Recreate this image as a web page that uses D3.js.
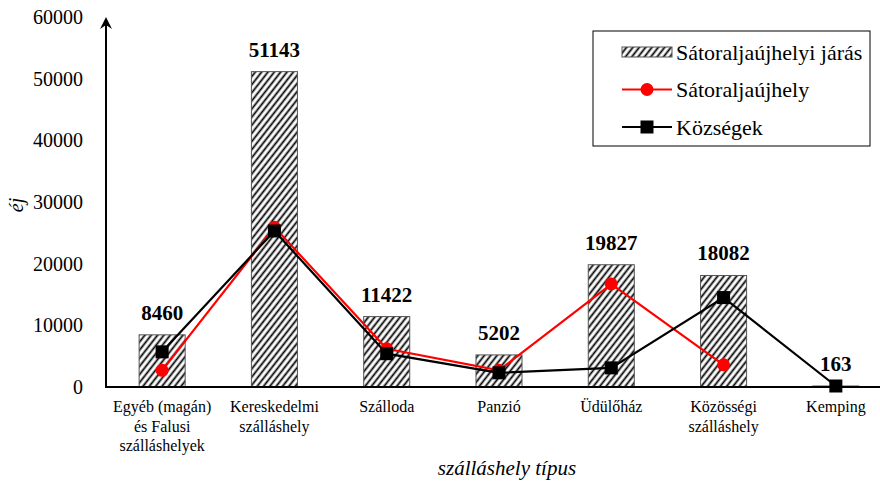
<!DOCTYPE html>
<html>
<head>
<meta charset="utf-8">
<script src="https://cdn.jsdelivr.net/npm/d3@7"></script>
<style>
  body { margin: 0; background: #fff; }
  svg text { font-family: "Liberation Serif", "Times New Roman", serif; }
</style>
</head>
<body>
<div id="chart"></div>
<script>
var categories = [
  ["Egyéb (magán)", "és Falusi", "szálláshelyek"],
  ["Kereskedelmi", "szálláshely"],
  ["Szálloda"],
  ["Panzió"],
  ["Üdülőház"],
  ["Közösségi", "szálláshely"],
  ["Kemping"]
];
var jaras = [8460, 51143, 11422, 5202, 19827, 18082, 163];
var varos = [2700, 25900, 6200, 2700, 16700, 3600, null];
var kozsegek = [5700, 25300, 5400, 2300, 3100, 14500, 163];
var yTicks = [0, 10000, 20000, 30000, 40000, 50000, 60000];

var W = 880, H = 489;
var margin = { top: 17, right: 0, bottom: 102, left: 106 },
    width = W - margin.left - margin.right,
    height = H - margin.top - margin.bottom;

var serif = "Liberation Serif";

var svg = d3.select("#chart").append("svg")
    .attr("width", W)
    .attr("height", H)
    .attr("font-family", serif);

// hatch for the bars
var pat = svg.append("defs").append("pattern")
    .attr("id", "hatch")
    .attr("patternUnits", "userSpaceOnUse")
    .attr("width", 5)
    .attr("height", 5)
    .attr("patternTransform", "rotate(38)");
pat.append("rect").attr("width", 5).attr("height", 5).attr("fill", "#fff");
pat.append("line")
    .attr("x1", 1.5).attr("y1", -1).attr("x2", 1.5).attr("y2", 6)
    .attr("stroke", "#000")
    .attr("stroke-width", 1.8);

var g = svg.append("g").attr("transform", "translate(" + margin.left + "," + margin.top + ")");

var idx = d3.range(categories.length);
var x = d3.scaleBand().domain(idx).range([0, 786]).paddingInner(0.59).paddingOuter(0.295);
var y = d3.scaleLinear().domain([0, 60000]).range([height, 0]);

// bars
g.selectAll("rect.bar")
    .data(jaras)
    .enter().append("rect")
    .attr("class", "bar")
    .attr("x", function(d, i) { return x(i); })
    .attr("y", function(d) { return y(d); })
    .attr("width", x.bandwidth())
    .attr("height", function(d) { return height - y(d); })
    .attr("fill", "url(#hatch)")
    .attr("stroke", "#555")
    .attr("stroke-width", 1);

// value labels
g.selectAll("text.val")
    .data(jaras)
    .enter().append("text")
    .attr("class", "val")
    .attr("x", function(d, i) { return x(i) + x.bandwidth() / 2; })
    .attr("y", function(d) { return y(d) - 15; })
    .attr("text-anchor", "middle")
    .style("font-size", "21px")
    .style("font-weight", "bold")
    .text(function(d) { return d; });

// y axis
var yAxis = g.append("g")
    .call(d3.axisLeft(y).tickValues(yTicks).tickSize(0).tickPadding(23).tickFormat(d3.format("d")));
yAxis.select(".domain").remove();
yAxis.selectAll("text").style("font-size", "20px").style("font-family", serif).attr("fill", "#000");

// x axis
var xAxis = g.append("g")
    .attr("transform", "translate(0," + height + ")")
    .call(d3.axisBottom(x).tickSize(0).tickFormat(""));
xAxis.select(".domain").attr("stroke", "#000").attr("stroke-width", 2)
    .attr("d", "M0,0H" + (W - margin.left));

xAxis.selectAll(".tick").each(function(d) {
  var t = d3.select(this).select("text")
      .attr("y", 14)
      .style("font-size", "16px")
      .style("font-family", serif)
      .attr("fill", "#000");
  t.selectAll("tspan")
    .data(categories[d])
    .enter().append("tspan")
    .attr("x", 0)
    .attr("dy", function(s, k) { return k === 0 ? "0.71em" : "1.2em"; })
    .text(function(s) { return s; });
});

// vertical axis line with arrow
g.append("path")
    .attr("d", "M0," + (height + 1) + "V4")
    .attr("stroke", "#000")
    .attr("stroke-width", 2);
g.append("path")
    .attr("d", "M-6,12L0,0L6,12L0,8Z")
    .attr("fill", "#000");

// lines
var line = d3.line()
    .defined(function(d) { return d !== null; })
    .x(function(d, i) { return x(i) + x.bandwidth() / 2; })
    .y(function(d) { return y(d); });

g.append("path").datum(varos)
    .attr("d", line)
    .attr("fill", "none")
    .attr("stroke", "#ff0000")
    .attr("stroke-width", 2.2);

g.append("path").datum(kozsegek)
    .attr("d", line)
    .attr("fill", "none")
    .attr("stroke", "#000")
    .attr("stroke-width", 2.2);

g.selectAll("circle.varos")
    .data(varos.map(function(v, i) { return { v: v, i: i }; }).filter(function(d) { return d.v !== null; }))
    .enter().append("circle")
    .attr("cx", function(d) { return x(d.i) + x.bandwidth() / 2; })
    .attr("cy", function(d) { return y(d.v); })
    .attr("r", 6.5)
    .attr("fill", "#ff0000");

g.selectAll("rect.koz")
    .data(kozsegek)
    .enter().append("rect")
    .attr("x", function(d, i) { return x(i) + x.bandwidth() / 2 - 6.5; })
    .attr("y", function(d) { return y(d) - 6.5; })
    .attr("width", 13)
    .attr("height", 13)
    .attr("fill", "#000");

// axis titles
svg.append("text")
    .attr("text-anchor", "middle")
    .attr("transform", "translate(23," + 205 + ")rotate(-90)")
    .style("font-size", "20px")
    .style("font-style", "italic")
    .text("éj");

svg.append("text")
    .attr("x", 507)
    .attr("y", 475)
    .attr("text-anchor", "middle")
    .style("font-size", "21px")
    .style("font-style", "italic")
    .text("szálláshely típus");

// legend
var lg = svg.append("g").attr("transform", "translate(593,31)");
lg.append("rect")
    .attr("width", 277).attr("height", 115)
    .attr("fill", "#fff").attr("stroke", "#000").attr("stroke-width", 1);

var items = ["Sátoraljaújhelyi járás", "Sátoraljaújhely", "Községek"];
items.forEach(function(name, k) {
  var cy = 21 + k * 37.5;
  if (k === 0) {
    lg.append("rect").attr("x", 29).attr("y", cy - 5).attr("width", 50).attr("height", 10)
      .attr("fill", "url(#hatch)").attr("stroke", "#555");
  } else {
    lg.append("line").attr("x1", 29).attr("x2", 79).attr("y1", cy).attr("y2", cy)
      .attr("stroke", k === 1 ? "#ff0000" : "#000").attr("stroke-width", 2.2);
    if (k === 1) {
      lg.append("circle").attr("cx", 54).attr("cy", cy).attr("r", 6.5).attr("fill", "#ff0000");
    } else {
      lg.append("rect").attr("x", 47.5).attr("y", cy - 6.5).attr("width", 13).attr("height", 13).attr("fill", "#000");
    }
  }
  lg.append("text")
    .attr("x", 83).attr("y", cy).attr("dy", "0.35em")
    .style("font-size", "22px")
    .text(name);
});
</script>
</body>
</html>
